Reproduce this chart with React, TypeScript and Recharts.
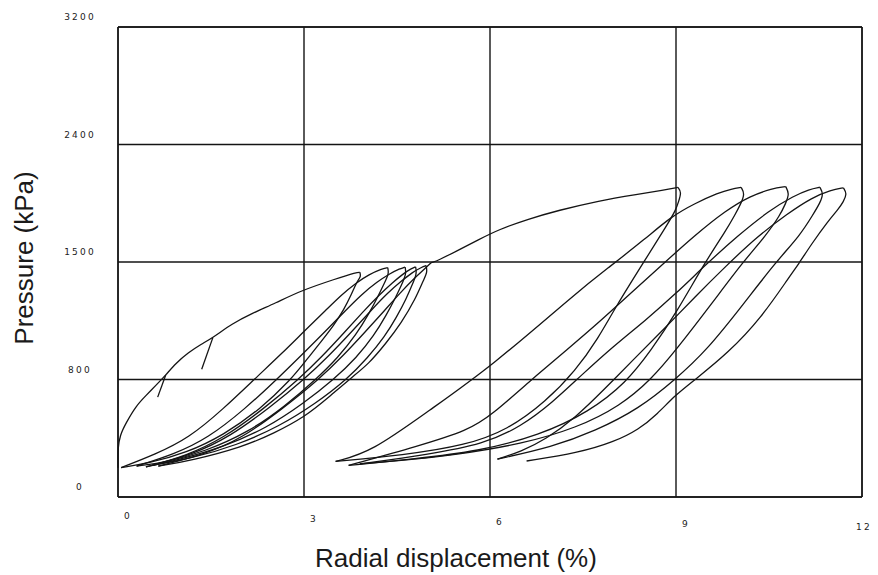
import React from "react";
import { LineChart, Line, XAxis, YAxis, CartesianGrid, ReferenceLine } from "recharts";

// Tick values and labels
const xTicks = [0, 3, 6, 9, 12];
const xTickLabels = ["0", "3", "6", "9", "12"];
const yTicks = [0, 800, 1600, 2400, 3200];
const yTickLabels = ["0", "800", "1500", "2400", "3200"];

// Stage 1: virgin loading and unload–reload loops  [displacement %, pressure kPa]
const virgin1 = [[0, 200], [0, 260], [0, 330], [0.03, 420], [0.13, 505], [0.29, 620], [0.45, 690], [0.61, 760], [0.77, 830], [0.93, 910], [1.14, 985], [1.34, 1040], [1.53, 1085], [1.84, 1180], [2.16, 1250], [2.54, 1320], [2.95, 1405], [3.51, 1485], [3.85, 1530], [3.9, 1530]];
const minorA = [[0.77, 830], [0.64, 680]];
const minorB = [[1.53, 1085], [1.35, 870]];
const unload1 = [[3.9, 1530], [3.92, 1500], [3.85, 1465], [3.77, 1383], [3.64, 1273], [3.48, 1169], [3.29, 1066], [3.03, 928], [2.79, 800], [2.3, 600], [1.7, 420], [1.1, 300], [0.5, 230], [0.05, 200]];
const reload1 = [[0.05, 200], [0.6, 290], [1.14, 400], [1.7, 600], [2.22, 810], [2.65, 980], [3.03, 1140], [3.35, 1270], [3.6, 1375], [3.85, 1460], [4.05, 1515], [4.25, 1552], [4.35, 1562]];
const unload2 = [[4.35, 1562], [4.37, 1520], [4.3, 1460], [4.2, 1370], [4.05, 1250], [3.85, 1110], [3.55, 950], [3.19, 800], [2.7, 620], [2.1, 440], [1.4, 310], [0.8, 240], [0.3, 210]];
const reload2 = [[0.3, 210], [0.9, 290], [1.45, 400], [2.05, 600], [2.56, 800], [2.97, 970], [3.35, 1130], [3.67, 1270], [3.93, 1380], [4.18, 1465], [4.38, 1520], [4.55, 1555], [4.63, 1566]];
const unload3 = [[4.63, 1566], [4.65, 1520], [4.58, 1450], [4.48, 1360], [4.33, 1240], [4.13, 1100], [3.85, 950], [3.48, 800], [3.0, 640], [2.4, 470], [1.7, 340], [1.0, 255], [0.45, 205]];
const reload3 = [[0.45, 205], [1.1, 280], [1.7, 400], [2.35, 600], [2.91, 800], [3.3, 960], [3.65, 1120], [3.95, 1260], [4.2, 1370], [4.43, 1460], [4.6, 1520], [4.73, 1555], [4.8, 1567]];
const unload4 = [[4.8, 1567], [4.82, 1520], [4.75, 1450], [4.65, 1350], [4.5, 1230], [4.3, 1090], [4.03, 950], [3.69, 800], [3.2, 640], [2.6, 480], [1.9, 350], [1.2, 265], [0.55, 215]];
const reload4 = [[0.55, 215], [1.2, 290], [1.8, 410], [2.45, 610], [3.0, 800], [3.4, 960], [3.78, 1130], [4.08, 1270], [4.35, 1390], [4.57, 1470], [4.75, 1530], [4.9, 1565], [4.97, 1575]];
const unload5 = [[4.97, 1575], [4.99, 1530], [4.93, 1480], [4.8, 1350], [4.57, 1185], [4.32, 1045], [4.04, 905], [3.77, 815], [3.4, 680], [3.03, 550], [2.5, 430], [2.0, 340], [1.2, 250], [0.65, 210]];
const reload5 = [[0.65, 210], [1.4, 290], [2.0, 400], [2.65, 600], [3.24, 800], [3.65, 970], [4.0, 1130], [4.3, 1270], [4.55, 1390], [4.78, 1490], [4.95, 1555], [5.05, 1595]];

// Stage 2
const virgin2 = [[5.05, 1595], [5.17, 1612], [5.49, 1681], [5.81, 1751], [6.14, 1821], [6.62, 1893], [7.1, 1951], [7.75, 2017], [8.39, 2062], [8.8, 2090], [9.03, 2108]];
const unload6 = [[9.03, 2108], [9.09, 2075], [9.04, 2010], [9.0, 1957], [8.87, 1861], [8.5, 1613], [8.02, 1289], [7.75, 1083], [7.38, 860], [6.9, 650], [6.3, 460], [5.6, 350], [4.6, 285], [3.51, 242]];
const reload6 = [[3.51, 242], [4.09, 307], [5.01, 587], [6.02, 887], [7.42, 1401], [7.91, 1561], [8.5, 1756], [8.92, 1909], [9.31, 2000], [9.68, 2071], [9.9, 2098], [10.05, 2108]];
const unload7 = [[10.05, 2108], [10.11, 2065], [10.05, 2000], [9.95, 1920], [9.8, 1810], [9.47, 1600], [9.0, 1250], [8.6, 1000], [8.2, 780], [7.6, 580], [6.8, 420], [5.8, 310], [4.8, 260], [3.72, 215]];
const reload7 = [[3.72, 215], [4.85, 347], [5.65, 454], [6.02, 556], [6.62, 781], [7.26, 1010], [7.78, 1198], [8.3, 1400], [8.8, 1590], [9.3, 1780], [9.8, 1950], [10.2, 2050], [10.55, 2100], [10.77, 2113]];
const unload8 = [[10.77, 2113], [10.83, 2065], [10.77, 2000], [10.68, 1920], [10.45, 1780], [10.08, 1600], [9.6, 1330], [9.0, 1000], [8.6, 800], [8.1, 620], [7.4, 470], [6.5, 360], [5.5, 290], [4.5, 245], [3.9, 225]];
const reload8 = [[3.9, 225], [5.0, 290], [5.9, 360], [6.5, 480], [7.0, 640], [7.5, 840], [8.0, 1030], [8.5, 1200], [9.0, 1385], [9.5, 1590], [10.0, 1780], [10.5, 1950], [10.9, 2050], [11.15, 2095], [11.32, 2109]];
const unload9 = [[11.32, 2109], [11.38, 2065], [11.32, 2000], [11.22, 1930], [11.0, 1780], [10.61, 1600], [10.1, 1320], [9.5, 1000], [8.99, 800], [8.4, 600], [7.7, 450], [7.0, 340], [6.12, 258]];
const reload9 = [[6.12, 258], [6.5, 310], [6.89, 390], [7.38, 540], [7.86, 740], [8.3, 930], [8.8, 1140], [9.3, 1360], [9.8, 1570], [10.3, 1770], [10.8, 1930], [11.2, 2040], [11.5, 2090], [11.7, 2105]];
const unload10 = [[11.7, 2105], [11.76, 2065], [11.7, 2010], [11.62, 1960], [11.45, 1878], [11.18, 1719], [10.97, 1581], [10.85, 1513], [10.37, 1216], [9.84, 981], [9.31, 800], [8.99, 695], [8.7, 565], [8.4, 460], [8.0, 375], [7.42, 300], [6.59, 245]];

const curves = [
  virgin1, minorA, minorB,
  unload1, reload1, unload2, reload2, unload3, reload3, unload4, reload4, unload5, reload5,
  virgin2, unload6, reload6, unload7, reload7, unload8, reload8, unload9, reload9, unload10,
];

const toRows = (pts: number[][]) => pts.map(([x, y]) => ({ x, y }));

const INK = "#141414";
const tickFont = { fontFamily: "DejaVu Sans, sans-serif", fontSize: 9, letterSpacing: 2.2, fill: "#222" };

const YTick = (props: any) => {
  const i = yTicks.indexOf(props.payload.value);
  return (
    <text x={80} y={props.y - 10} textAnchor="middle" dominantBaseline="central" {...tickFont}>
      {yTickLabels[i]}
    </text>
  );
};

const XTick = (props: any) => {
  const i = xTicks.indexOf(props.payload.value);
  return (
    <text x={Math.min(props.x + 10, 864)} y={516 + (props.x - 118) * 0.0148} textAnchor="middle" dominantBaseline="central" {...tickFont}>
      {xTickLabels[i]}
    </text>
  );
};

export default function App() {
  return (
    <div style={{ position: "absolute", left: 0, top: 0, width: 878, height: 575, background: "#fff" }}>
      <LineChart width={878} height={575} margin={{ top: 27, right: 16, bottom: 48, left: 58 }}>
        <CartesianGrid stroke={INK} strokeWidth={1.4} horizontalValues={yTicks} verticalValues={xTicks} />
        <XAxis type="number" dataKey="x" domain={[0, 12]} ticks={xTicks} height={30} axisLine={false} tickLine={false} tick={<XTick />} interval={0} />
        <YAxis type="number" dataKey="y" domain={[0, 3200]} ticks={yTicks} width={60} axisLine={false} tickLine={false} tick={<YTick />} interval={0} />
        <ReferenceLine x={0} stroke={INK} strokeWidth={1.4} />
        <ReferenceLine x={12} stroke={INK} strokeWidth={1.4} />
        <ReferenceLine y={0} stroke={INK} strokeWidth={1.4} />
        <ReferenceLine y={3200} stroke={INK} strokeWidth={1.4} />
        {curves.map((c, i) => (
          <Line
            key={i}
            data={toRows(c)}
            dataKey="y"
            type="basis"
            stroke={INK}
            strokeWidth={1.3}
            dot={false}
            activeDot={false}
            isAnimationActive={false}
          />
        ))}
      </LineChart>
      <svg width={878} height={575} style={{ position: "absolute", left: 0, top: 0, pointerEvents: "none" }}>
        <text x={456} y={567} textAnchor="middle" fontFamily="Liberation Sans, Arial, sans-serif" fontSize={26} fill="#1a1a1a">
          Radial displacement (%)
        </text>
        <text x={33} y={258} transform="rotate(-90 33 258)" textAnchor="middle" fontFamily="Liberation Sans, Arial, sans-serif" fontSize={26} fill="#1a1a1a">
          Pressure (kPa)
        </text>
      </svg>
    </div>
  );
}
